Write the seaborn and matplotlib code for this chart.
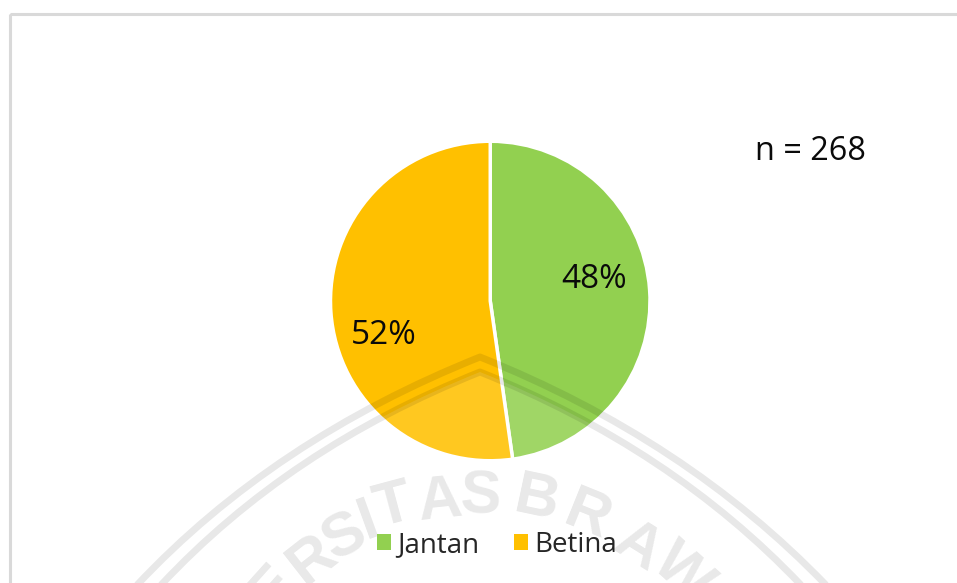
import matplotlib
matplotlib.use("Agg")
import matplotlib.pyplot as plt
import seaborn as sns
from matplotlib.patches import Patch, PathPatch, Rectangle
from matplotlib.path import Path

categories = ["Jantan", "Betina"]
counts = [128, 140]
colors = ["#92D050", "#FFC000"]
note = "n = 268"
W, H = 957, 583

sns.set_theme(style="white")
plt.rcParams["font.family"] = ["Open Sans", "DejaVu Sans"]

fig = plt.figure(figsize=(W / 100, H / 100), dpi=100, facecolor="white")

ov = fig.add_axes([0, 0, 1, 1], zorder=1)
ov.set_xlim(0, W)
ov.set_ylim(H, 0)
ov.axis("off")
ov.patch.set_alpha(0)
ov.add_patch(Rectangle((9.5, 13.5), W + 20, H + 20, fc="none", ec="#d9d9d9", lw=2.2, zorder=1))

ax = fig.add_axes([330.5 / W, 1 - 461 / H, 319.5 / W, 320 / H], zorder=2)
ax.pie(counts, colors=colors, startangle=90, counterclock=False, radius=1,
       wedgeprops=dict(edgecolor="white", linewidth=2.5))
ax.set_xlim(-1.0, 1.0)
ax.set_ylim(-1.0, 1.0)

top = fig.add_axes([0, 0, 1, 1], zorder=3)
top.set_xlim(0, W)
top.set_ylim(H, 0)
top.axis("off")
top.patch.set_alpha(0)


def dome(l, lc, peak, rc, r):
    verts = [l, lc, peak, rc, r]
    codes = [Path.MOVETO, Path.CURVE3, Path.CURVE3, Path.CURVE3, Path.CURVE3]
    return Path(verts, codes)


outer = dome((137, 585), (273.6, 439.5), (480, 357), (686, 439.5), (826, 585))
inner = dome((161, 585), (289, 448), (480, 372), (671, 448), (801, 585))
top.add_patch(PathPatch(Path(list(inner.vertices) + [inner.vertices[0]],
                             list(inner.codes) + [Path.CLOSEPOLY]),
                        fc="white", ec="none", alpha=0.13, zorder=1))
for p in (outer, inner):
    top.add_patch(PathPatch(p, fc="none", ec="black", alpha=0.09, lw=5, joinstyle="round", zorder=2))
letters = [("E", 274, 588, 48), ("R", 313, 560, 38), ("S", 345, 538, 28), ("I", 369, 522, 20),
           ("T", 393, 507, 15), ("A", 440, 502, 6), ("S", 480, 498, -2), ("B", 537, 500, -12),
           ("R", 587, 517, -22), ("A", 637, 548, -32), ("W", 682, 574, -42)]
for ch, x, y, rot in letters:
    top.text(x, y, ch, fontsize=44, fontweight="bold", color="black", alpha=0.09, ha="center",
             va="center", rotation=rot, rotation_mode="anchor",
             fontfamily="Liberation Sans", zorder=2)

lab_col = "#0a0a0a"
label_pos = [(594, 279), (384, 335)]
total = sum(counts)
for v, (x, y) in zip(counts, label_pos):
    top.text(x, y, f"{v / total:.0%}", fontsize=24, color=lab_col, ha="center", va="center", zorder=4)
top.text(755, 151, note, fontsize=23.3, color=lab_col, ha="left", va="center", zorder=4)

handles = [Patch(facecolor=c, edgecolor="none", label=n) for c, n in zip(colors, categories)]
leg = top.legend(handles=handles, loc="center", bbox_to_anchor=(497 / W, 1 - 545 / H),
                 bbox_transform=fig.transFigure, ncol=2, frameon=False, fontsize=20,
                 handlelength=0.5, handleheight=0.5, handletextpad=0.25, columnspacing=1.22,
                 labelcolor="#262626")
leg.set_zorder(4)

fig.savefig("out.png", dpi=100)
